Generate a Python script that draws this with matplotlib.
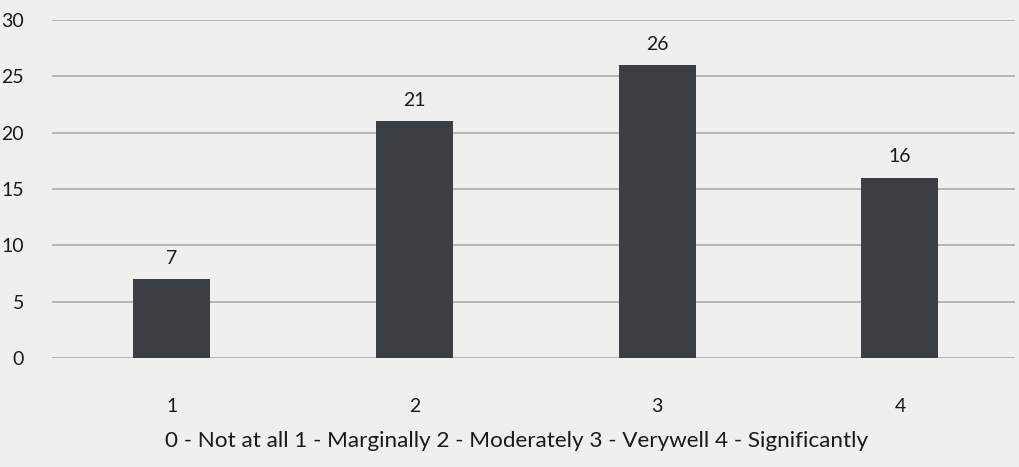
import matplotlib.pyplot as plt

# survey responses per rating
categories = ["1", "2", "3", "4"]
counts = [7, 21, 26, 16]
yticks = [0, 5, 10, 15, 20, 25, 30]
xlabel = "0 - Not at all 1 - Marginally 2 - Moderately 3 - Verywell 4 - Significantly"

plt.rcParams['font.family'] = ['Lato', 'DejaVu Sans']

fig = plt.figure(figsize=(10.2, 4.67), dpi=100)
fig.patch.set_facecolor('#efefed')
ax = fig.add_axes([52 / 1020, 109 / 467, 963 / 1020, 338 / 467])
ax.set_facecolor('#efefed')

pos = list(range(1, len(categories) + 1))
bars = ax.bar(pos, counts, width=0.317, color='#3b3e43', zorder=3)
for b, v in zip(bars, counts):
    ax.text(b.get_x() + b.get_width() / 2, v + 1.1, str(v), ha='center', va='bottom',
            fontsize=14, color='#1a1a1a')

ax.set_xlim(0.506, 4.474)
ax.set_ylim(0, 30)
ax.set_yticks(yticks)
ax.set_yticklabels([str(t) for t in yticks], fontsize=14, color='#1a1a1a')
ax.set_xticks(pos)
ax.set_xticklabels(categories, fontsize=14, color='#1a1a1a')
ax.tick_params(axis='y', length=0, pad=20)
ax.tick_params(axis='x', length=0, pad=29)
ax.yaxis.grid(True, color='#ababab', linewidth=1.2, zorder=0)
for s in ax.spines.values():
    s.set_visible(False)
ax.set_xlabel(xlabel, fontsize=16.2, color='#1a1a1a', labelpad=11)
ax.xaxis.label.set_x(0.482)

fig.savefig('out.png', dpi=100, facecolor=fig.get_facecolor())
